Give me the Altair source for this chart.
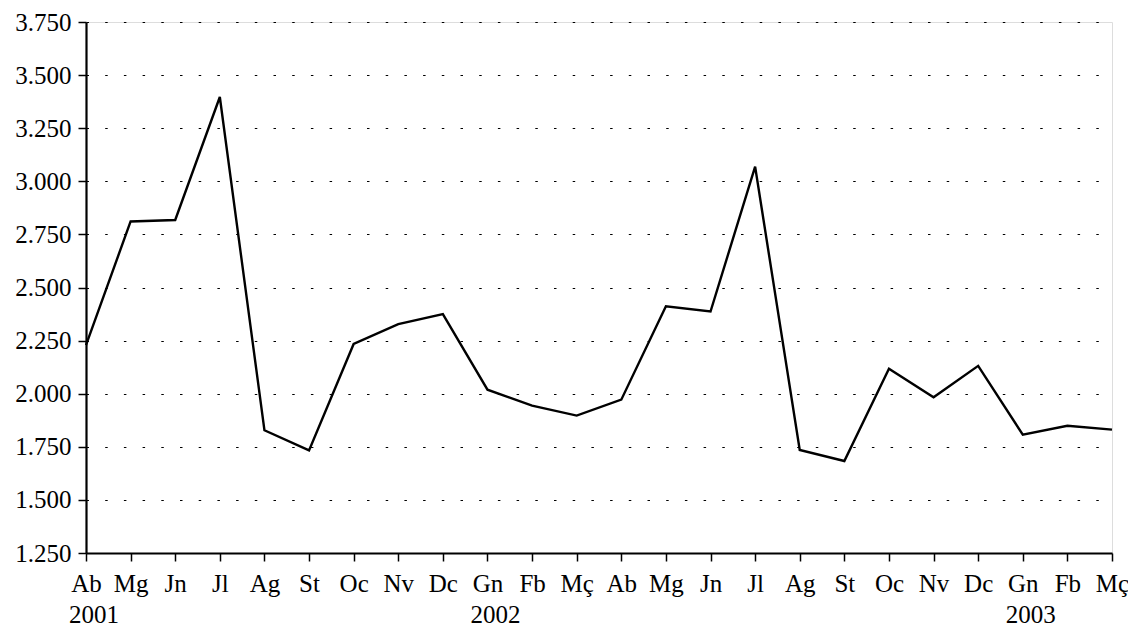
import altair as alt
import pandas as pd

months = ["Ab", "Mg", "Jn", "Jl", "Ag", "St", "Oc", "Nv", "Dc", "Gn", "Fb", "Mç",
          "Ab", "Mg", "Jn", "Jl", "Ag", "St", "Oc", "Nv", "Dc", "Gn", "Fb", "Mç"]
values = [2229, 2811, 2818, 3397, 1828, 1733, 2234, 2328, 2375, 2019, 1944, 1897,
          1972, 2412, 2387, 3069, 1735, 1683, 2117, 1983, 2131, 1807, 1849, 1831]
year_labels = ["2001", "2002", "2003"]
year_pos = [0, 9, 21]
y_ticks = [1250, 1500, 1750, 2000, 2250, 2500, 2750, 3000, 3250, 3500, 3750]

df = pd.DataFrame({"i": list(range(len(values))), "v": values})
years_df = pd.DataFrame({"i": year_pos, "t": year_labels})

FONT = "Liberation Serif"
FS = 25
month_js = "[" + ",".join("'" + m + "'" for m in months) + "]"

x_scale = alt.Scale(domain=[0, len(values) - 1], nice=False, zero=False)
y_scale = alt.Scale(domain=[1250, 3750], nice=False, zero=False)

line = alt.Chart(df).mark_line(color="black", strokeWidth=2.4).encode(
    x=alt.X("i:Q", scale=x_scale, title=None,
            axis=alt.Axis(values=list(range(len(values))),
                          labelExpr=month_js + "[datum.value]",
                          grid=False, tickSize=8, tickWidth=1.5, tickColor="black",
                          domainColor="black", domainWidth=2.2,
                          labelFont=FONT, labelFontSize=FS, labelColor="black",
                          labelBaseline="alphabetic", labelPadding=30,
                          labelFlush=False, labelOverlap=False, labelBound=False)),
    y=alt.Y("v:Q", scale=y_scale, title=None,
            axis=alt.Axis(values=y_ticks,
                          labelExpr="replace(format(datum.value, ',.0f'), ',', '.')",
                          grid=True, gridColor="black", gridDash=[2.5, 16.2], gridWidth=1.2,
                          tickSize=8, tickWidth=1.5, tickColor="black",
                          domainColor="black", domainWidth=2.2,
                          labelFont=FONT, labelFontSize=FS, labelColor="black",
                          labelPadding=7, labelFlush=False, labelOverlap=False)),
)

years = alt.Chart(years_df).mark_text(
    font=FONT, fontSize=FS, color="black", align="center", baseline="alphabetic", dx=8
).encode(
    x=alt.X("i:Q", scale=x_scale),
    y=alt.value(601),
    text="t:N",
)

chart = alt.layer(line, years).properties(
    width=1026, height=531,
    autosize=alt.AutoSizeParams(type="none"),
    padding={"left": 78, "top": 14, "right": 16, "bottom": 76},
).configure_view(stroke=None).configure(background="white")

chart.save("out.html", embed_options={"renderer": "svg", "actions": False})
